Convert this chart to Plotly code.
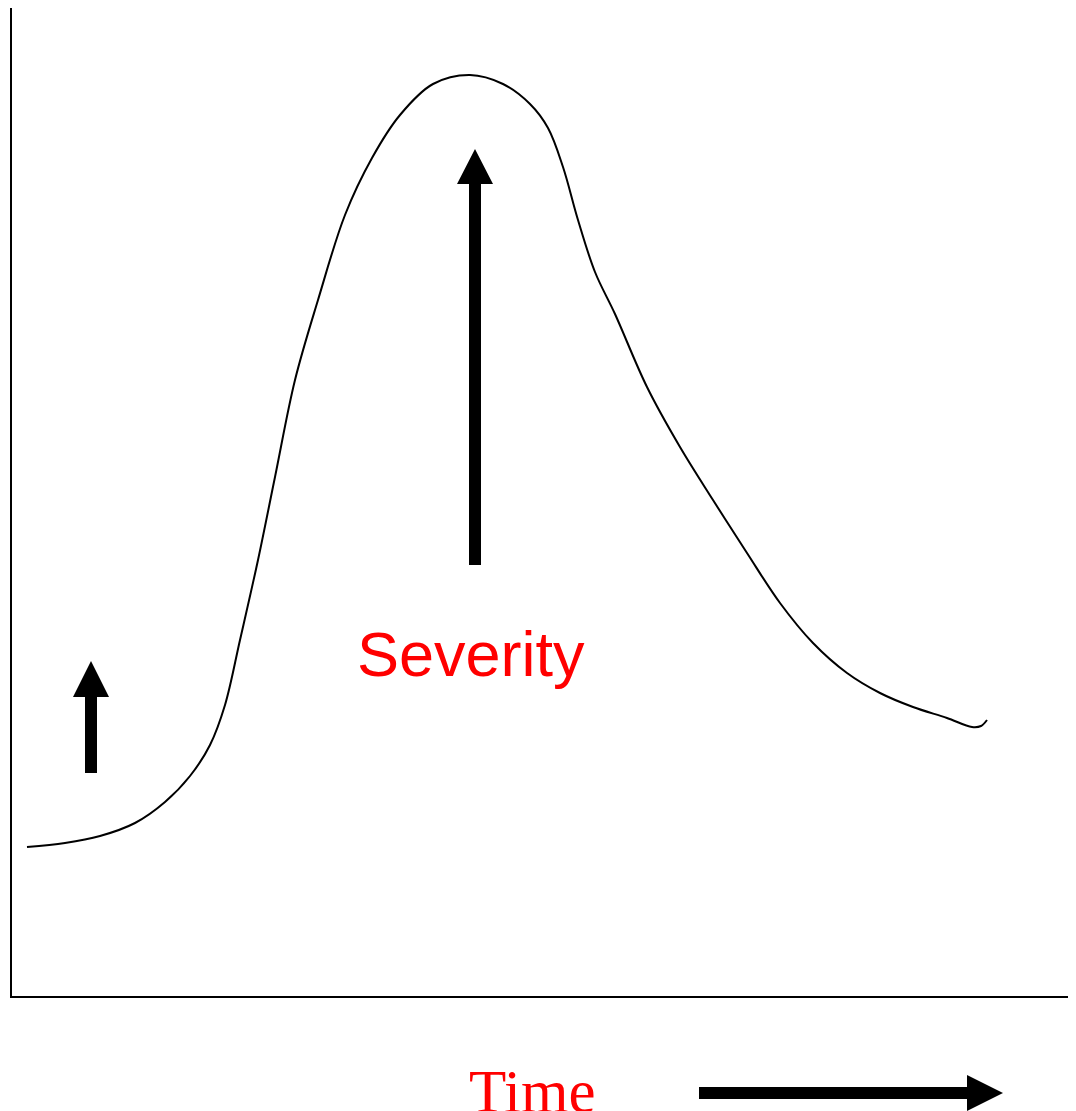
import plotly.graph_objects as go

# Severity-over-time curve (x: time, y: page pixels, downward)
curve_x = [27, 65, 100, 135, 165, 190, 210, 225, 240, 258, 275, 295, 318, 345, 372,
           400, 433, 470, 503, 530, 548, 563, 578, 595, 615, 647, 680, 713,
           747, 780, 813, 847, 880, 913, 947, 972, 981, 987]
curve_y = [847, 843, 836, 823, 802, 776, 745, 705, 640, 560, 477, 380, 300, 215, 158,
           115, 84, 75, 84, 104, 128, 167, 220, 272, 314, 387, 447, 500,
           553, 603, 643, 673, 693, 707, 718, 727, 726, 720]

label_severity = "Severity"
label_time = "Time"

W, H = 1076, 1111
OFF = 8  # page body margin

fig = go.Figure()
fig.add_trace(go.Scatter(
    x=curve_x, y=curve_y, mode="lines",
    line=dict(color="black", width=2, shape="spline", smoothing=1.0),
    hoverinfo="skip", showlegend=False,
))

shapes = []
# axes lines
shapes.append(dict(type="line", x0=11, y0=0, x1=11, y1=997, line=dict(color="black", width=2)))
shapes.append(dict(type="line", x0=10, y0=997, x1=1075, y1=997, line=dict(color="black", width=2)))

def up_arrow(cx, tip, base, bottom, hw=18, sw=6):
    return dict(type="path",
                path=(f"M {cx-sw},{bottom} L {cx-sw},{base} L {cx-hw},{base} L {cx},{tip} "
                      f"L {cx+hw},{base} L {cx+sw},{base} L {cx+sw},{bottom} Z"),
                fillcolor="black", line=dict(color="black", width=0))

shapes.append(up_arrow(91, 661, 697, 773))
shapes.append(up_arrow(475, 149, 184, 565))
# horizontal time arrow
shapes.append(dict(type="path",
                   path=("M 699,1087 L 967,1087 L 967,1075 L 1003,1093 L 967,1111 "
                         "L 967,1099 L 699,1099 Z"),
                   fillcolor="black", line=dict(color="black", width=0)))

fig.update_layout(
    width=W - OFF, height=H - OFF,
    margin=dict(l=0, r=0, t=0, b=0),
    paper_bgcolor="white", plot_bgcolor="white",
    xaxis=dict(range=[OFF, W], visible=False, fixedrange=True),
    yaxis=dict(range=[H, OFF], visible=False, fixedrange=True),
    shapes=shapes,
    annotations=[
        dict(x=471, y=654, xref="x", yref="y", text=label_severity, showarrow=False,
             xanchor="center", yanchor="middle",
             font=dict(family="Liberation Sans, Arial, sans-serif", size=63, color="red")),
        dict(x=532, y=1091, xref="x", yref="y", text=label_time, showarrow=False,
             xanchor="center", yanchor="middle",
             font=dict(family="Liberation Serif, Times New Roman, serif", size=61, color="red")),
    ],
)

fig.write_html("out.html")
